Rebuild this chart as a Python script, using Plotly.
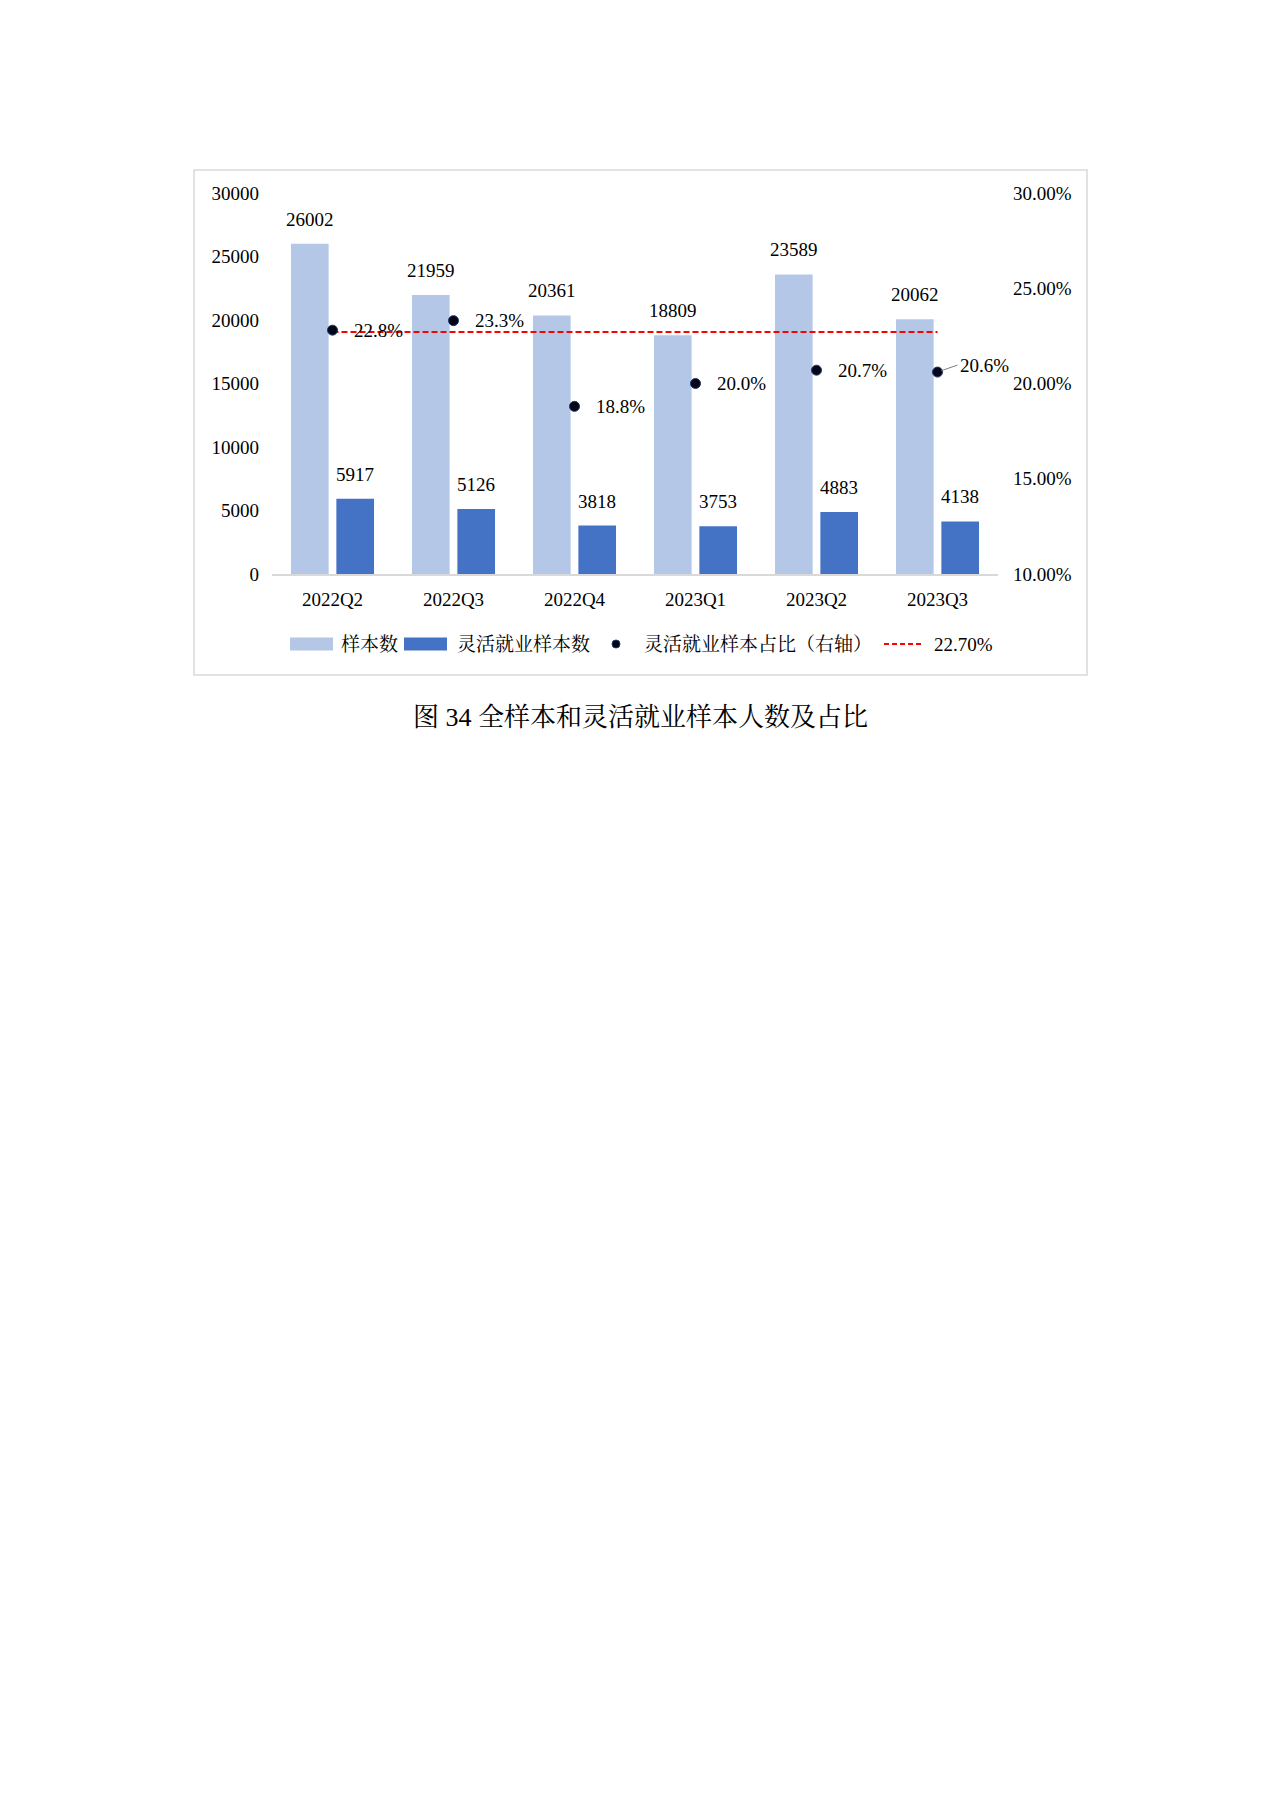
import plotly.graph_objects as go

# 数据
quarters = ["2022Q2", "2022Q3", "2022Q4", "2023Q1", "2023Q2", "2023Q3"]
total_samples = [26002, 21959, 20361, 18809, 23589, 20062]
flex_samples = [5917, 5126, 3818, 3753, 4883, 4138]
flex_share = [22.8, 23.3, 18.8, 20.0, 20.7, 20.6]   # %
avg_share = 22.70
avg_line = [avg_share] * len(quarters)

legend_names = ["样本数", "灵活就业样本数", "灵活就业样本占比（右轴）", f"{avg_share:.2f}%"]
caption = "图 34 全样本和灵活就业样本人数及占比"

FONT = "Liberation Serif, Times New Roman, Noto Serif CJK SC, Noto Sans CJK SC"
LIGHT = "#b4c7e7"
DARK = "#4472c4"
RED = "#ff0000"
DOT = "#05051a"

# 绘图区像素位置（页面 body 有 8px 外边距）
PL, PR, PT, PB = 272, 998, 193, 574
W, H = 1280, 1810
OFF = 8


def px(x):
    return (x - PL) / (PR - PL)


def py(y):
    return (PB - y) / (PB - PT)


fig = go.Figure()

fig.add_trace(go.Bar(x=quarters, y=total_samples, name=legend_names[0],
                     marker=dict(color=LIGHT, line=dict(width=0)), showlegend=False))
fig.add_trace(go.Bar(x=quarters, y=flex_samples, name=legend_names[1],
                     marker=dict(color=DARK, line=dict(width=0)), showlegend=False))
# 平均线
fig.add_trace(go.Scatter(x=quarters, y=avg_line, yaxis="y2", mode="lines",
                         name=legend_names[3], showlegend=False,
                         line=dict(color=RED, width=2, dash="6px,3px")))
# 占比散点
fig.add_trace(go.Scatter(x=quarters, y=flex_share, yaxis="y2", mode="markers",
                         name=legend_names[2], showlegend=False,
                         marker=dict(color=DOT, size=10, line=dict(color="#1f3864", width=1))))

annotations = []
# 柱子上方数值
for q, a, b in zip(quarters, total_samples, flex_samples):
    annotations.append(dict(x=q, y=a, xref="x", yref="y", text=str(a),
                            showarrow=False, xshift=-22.7, yshift=12,
                            yanchor="bottom"))
    annotations.append(dict(x=q, y=b, xref="x", yref="y", text=str(b),
                            showarrow=False, xshift=22.7, yshift=12,
                            yanchor="bottom"))
# 占比标签
for i, (q, p) in enumerate(zip(quarters, flex_share)):
    if i == len(quarters) - 1:
        annotations.append(dict(x=q, y=p, xref="x", yref="y2", text=f"{p:.1f}%",
                                showarrow=True, arrowhead=0, arrowwidth=1,
                                arrowcolor="#7f7f7f", ax=20, ay=-7,
                                xanchor="left", standoff=4))
    else:
        annotations.append(dict(x=q, y=p, xref="x", yref="y2", text=f"{p:.1f}%",
                                showarrow=False, xshift=19, xanchor="left"))

# 图例（手动排布）
LY = 644
shapes = [
    dict(type="rect", xref="paper", yref="paper", x0=px(290), x1=px(333),
         y0=py(LY + 6.5), y1=py(LY - 6.5), fillcolor=LIGHT, line=dict(width=0)),
    dict(type="rect", xref="paper", yref="paper", x0=px(404), x1=px(447),
         y0=py(LY + 6.5), y1=py(LY - 6.5), fillcolor=DARK, line=dict(width=0)),
    dict(type="circle", xref="paper", yref="paper", x0=px(612), x1=px(620),
         y0=py(LY + 4), y1=py(LY - 4), fillcolor=DOT, line=dict(color="#1f3864", width=1)),
    dict(type="line", xref="paper", yref="paper", x0=px(884), x1=px(924),
         y0=py(LY), y1=py(LY), line=dict(color=RED, width=2, dash="5px,3px")),
    # 外框
    dict(type="rect", xref="paper", yref="paper", x0=px(194), x1=px(1087),
         y0=py(675), y1=py(170), line=dict(color="#d9d9d9", width=1.5), layer="below"),
]
for name, x0 in zip(legend_names, [339, 455, 642, 932]):
    annotations.append(dict(x=px(x0), y=py(LY), xref="paper", yref="paper", text=name,
                            showarrow=False, xanchor="left", yanchor="middle"))

# 图题
annotations.append(dict(x=px(640), y=py(717), xref="paper", yref="paper", text=caption,
                        showarrow=False, xanchor="center", yanchor="middle",
                        font=dict(size=26)))

fig.update_layout(
    width=W, height=H,
    margin=dict(l=PL - OFF, r=W - PR + OFF, t=PT - OFF, b=H - PB + OFF, pad=0),
    paper_bgcolor="white", plot_bgcolor="white",
    font=dict(family=FONT, size=19, color="black"),
    barmode="group", bargap=0.25, bargroupgap=0.17,
    showlegend=False,
    xaxis=dict(range=[-0.5, len(quarters) - 0.5], autorange=False,
               showgrid=False, showline=True, linecolor="#d9d9d9", linewidth=1.5,
               ticks="", ticklabelstandoff=7, zeroline=False),
    yaxis=dict(range=[0, 30000], dtick=5000, tickformat="d", showgrid=False,
               zeroline=False, ticks="", ticklabelstandoff=12, showline=False),
    yaxis2=dict(range=[10, 30], dtick=5, overlaying="y", side="right",
                showgrid=False, zeroline=False, ticks="", ticklabelstandoff=14,
                tickformat=".2f", ticksuffix="%"),
    annotations=annotations,
    shapes=shapes,
)

fig.write_html("out.html")
